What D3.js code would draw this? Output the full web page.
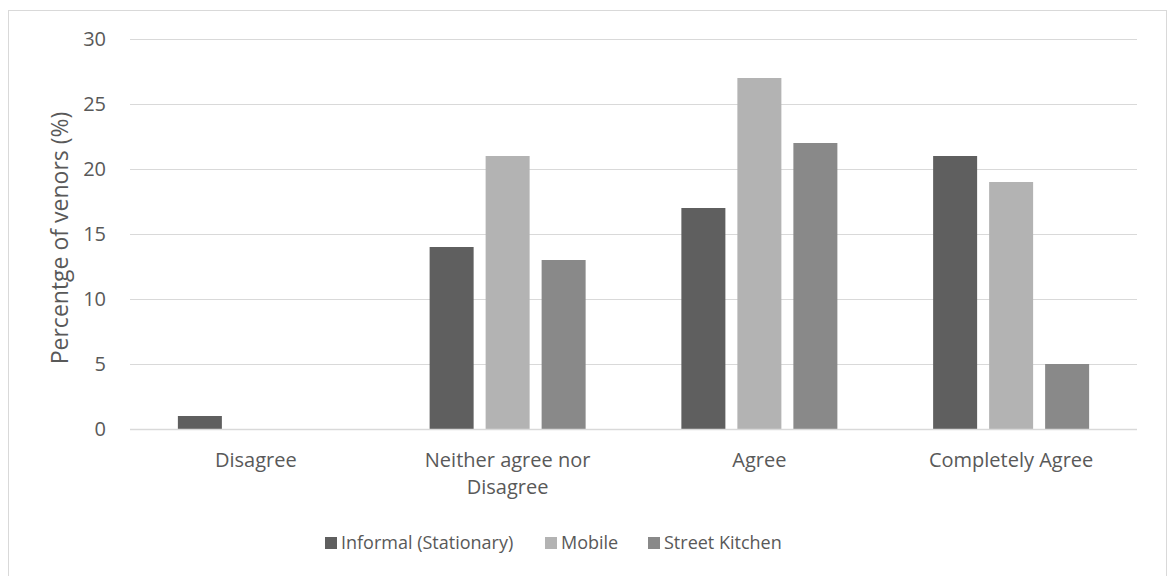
<!DOCTYPE html>
<html>
<head>
<meta charset="utf-8">
<script src="https://cdn.jsdelivr.net/npm/d3@7"></script>
<style>
  body { margin: 0; background: #fff; }
  svg { display: block; font-family: "Open Sans", "Noto Sans", sans-serif; }
</style>
</head>
<body>
<svg id="chart" width="1170" height="576"></svg>
<script>
const categories = [["Disagree"], ["Neither agree nor", "Disagree"], ["Agree"], ["Completely Agree"]];
const seriesNames = ["Informal (Stationary)", "Mobile", "Street Kitchen"];
const informal = [1, 14, 17, 21];
const mobile = [0, 21, 27, 19];
const streetKitchen = [0, 13, 22, 5];
const yTicks = [0, 5, 10, 15, 20, 25, 30];
const colors = ["#5f5f5f", "#b3b3b3", "#898989"];

const series = [informal, mobile, streetKitchen];
const svg = d3.select("#chart");
const W = 1170, H = 576;
const m = { left: 130, right: 33, top: 39, bottom: 147 };
const textColor = "#595959";

// chart frame
svg.append("rect").attr("x", 8.5).attr("y", 10.5).attr("width", 1158).attr("height", 580)
  .attr("fill", "none").attr("stroke", "#d9d9d9");

const x0 = d3.scaleBand().domain(d3.range(categories.length)).range([m.left, W - m.right]).padding(0);
const bw = x0.bandwidth();
const barW = bw * 44 / 251.75, gap = bw * 12 / 251.75;
const x1 = d3.scaleBand().domain(d3.range(series.length))
  .range([(bw - (3 * barW + 2 * gap)) / 2, (bw + (3 * barW + 2 * gap)) / 2])
  .paddingInner(gap / (barW + gap)).paddingOuter(0);
const y = d3.scaleLinear().domain([0, 30]).range([H - m.bottom, m.top]);

// gridlines
svg.append("g").selectAll("line").data(yTicks.filter(d => d > 0)).join("line")
  .attr("x1", m.left).attr("x2", W - m.right)
  .attr("y1", d => y(d) + 0.5).attr("y2", d => y(d) + 0.5)
  .attr("stroke", "#d9d9d9").attr("stroke-width", 1);

// y tick labels
const yAxis = svg.append("g").attr("transform", `translate(${m.left},0)`)
  .call(d3.axisLeft(y).tickValues(yTicks).tickSize(0).tickPadding(24));
yAxis.select(".domain").remove();
yAxis.selectAll("text").attr("fill", textColor).style("font-size", "20px")
  .style("font-family", "'Open Sans', sans-serif");

// bars
const groups = svg.append("g").selectAll("g").data(series).join("g")
  .attr("fill", (d, i) => colors[i]);
groups.each(function (vals, si) {
  d3.select(this).selectAll("rect").data(vals).join("rect")
    .attr("x", (d, ci) => x0(ci) + x1(si))
    .attr("width", x1.bandwidth())
    .attr("y", d => y(d))
    .attr("height", d => y(0) - y(d));
});

// baseline
svg.append("line").attr("x1", m.left).attr("x2", W - m.right)
  .attr("y1", y(0) + 0.5).attr("y2", y(0) + 0.5).attr("stroke", "#d9d9d9").attr("stroke-width", 1.5);

// category labels
const cat = svg.append("g").selectAll("text").data(categories).join("text")
  .attr("x", (d, i) => x0(i) + bw / 2)
  .attr("y", y(0) + 38)
  .attr("text-anchor", "middle").attr("fill", textColor).style("font-size", "20px");
cat.selectAll("tspan").data(d => d).join("tspan")
  .attr("x", function () { return d3.select(this.parentNode).attr("x"); })
  .attr("dy", (d, i) => i === 0 ? 0 : 27)
  .text(d => d);

// y axis title
svg.append("text")
  .attr("transform", `translate(68,${(y(0) + y(30)) / 2 + 4}) rotate(-90)`)
  .attr("text-anchor", "middle").attr("fill", textColor).style("font-size", "23px")
  .text("Percentge of venors (%)");

// legend
const legendX = [325, 545, 648];
const leg = svg.append("g").selectAll("g").data(seriesNames).join("g")
  .attr("transform", (d, i) => `translate(${legendX[i]},543)`);
leg.append("rect").attr("x", 0).attr("y", -6).attr("width", 12).attr("height", 12)
  .attr("fill", (d, i) => colors[i]);
leg.append("text").attr("x", 16).attr("y", 0).attr("dy", "0.35em")
  .attr("fill", textColor).style("font-size", "18px").text(d => d);
</script>
</body>
</html>
